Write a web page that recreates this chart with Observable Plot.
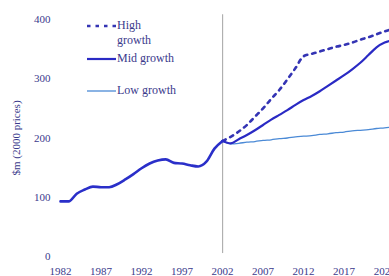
<!DOCTYPE html>
<html>
<head>
<meta charset="utf-8">
<script src="https://cdn.jsdelivr.net/npm/d3@7"></script>
<script src="https://cdn.jsdelivr.net/npm/@observablehq/plot@0.6"></script>
<style>
  html, body { margin: 0; padding: 0; background: #fff; }
  #wrap { position: relative; width: 389px; height: 276px; overflow: hidden; font-family: "Liberation Serif", "DejaVu Serif", serif; }
  #legend { position: absolute; left: 86px; top: 18px; font-size: 12px; color: #3a3a8c; line-height: 15px; }
  .row { display: flex; align-items: flex-start; position: absolute; left: 0; white-space: nowrap; }
  .row svg { margin-top: 1px; margin-right: 1px; }
</style>
</head>
<body>
<div id="wrap"><div id="chart"></div><div id="legend"></div></div>
<script>
const histYears = [1982,1983,1984,1985,1986,1987,1988,1989,1990,1991,1992,1993,1994,1995,1996,1997,1998,1999,2000,2001,2002];
const histValues = [93,93,106,113,118,117,117,122,130,139,149,157,162,164,158,157,154,152,160,182,195];

const projYears = [2002,2003,2004,2005,2006,2007,2008,2009,2010,2011,2012,2013,2014,2015,2016,2017,2018,2019,2020,2021,2022,2023];
const highValues = [195,202,211,222,236,250,266,281,299,318,338,342,346,350,354,357,361,366,370,375,380,384];
const midValues  = [195,191,198,205,213,222,231,239,247,256,264,271,279,288,297,306,316,327,340,353,361,365];
const lowValues  = [195,190,191,193,194,196,197,199,200,202,203,204,206,207,209,210,212,213,214,216,217,219];

const xTicks = [1982,1987,1992,1997,2002,2007,2012,2017,2022];
const yTicks = [0,100,200,300,400];
const dividerYear = [2002];

const seriesNames = ["High growth", "Mid growth", "Low growth"];
const colors = {hist: "#2a2fc9", high: "#3434b4", mid: "#2a2ac4", low: "#4b8ad6", text: "#3a3a8c"};

const hist = histYears.map((y, i) => ({year: y, value: histValues[i]}));
const high = projYears.map((y, i) => ({year: y, value: highValues[i]}));
const mid = projYears.map((y, i) => ({year: y, value: midValues[i]}));
const low = projYears.map((y, i) => ({year: y, value: lowValues[i]}));

const chart = Plot.plot({
  width: 389,
  height: 276,
  marginLeft: 60,
  marginRight: 0,
  marginTop: 19,
  marginBottom: 20,
  style: {fontFamily: '"Liberation Serif", serif', fontSize: "11px", color: colors.text, background: "#fff"},
  x: {domain: [1982, 2022.6], ticks: xTicks, tickFormat: d => String(d), label: null},
  y: {domain: [0, 400], ticks: yTicks},
  marks: [
    Plot.axisX({ticks: xTicks, tickSize: 0, tickPadding: 11, tickFormat: d => String(d), fill: colors.text, label: null}),
    Plot.axisY({ticks: yTicks, tickSize: 0, tickPadding: 10, fill: colors.text, label: "$m (2000 prices)", labelAnchor: "center", labelArrow: "none", labelOffset: 48}),
    Plot.ruleX(dividerYear, {y1: 5, y2: 408, stroke: "#b0b0b0", strokeWidth: 1.2}),
    Plot.line(low, {x: "year", y: "value", stroke: colors.low, strokeWidth: 1.3, curve: "monotone-x", clip: true}),
    Plot.line(high, {x: "year", y: "value", stroke: colors.high, strokeWidth: 2.6, strokeDasharray: "3.5,5", curve: "monotone-x", clip: true}),
    Plot.line(mid, {x: "year", y: "value", stroke: colors.mid, strokeWidth: 2.2, curve: "monotone-x", clip: true}),
    Plot.line(hist, {x: "year", y: "value", stroke: colors.hist, strokeWidth: 2.6, curve: "monotone-x"})
  ]
});
document.getElementById("chart").appendChild(chart);

// legend
const legend = document.getElementById("legend");
const legendStyles = [
  {stroke: colors.high, width: 2.6, dash: "3.5,5", top: 0, label: "High<br>growth"},
  {stroke: colors.mid, width: 2.2, dash: "", top: 33, label: "Mid growth"},
  {stroke: colors.low, width: 1.3, dash: "", top: 65, label: "Low growth"}
];
legendStyles.forEach((s, i) => {
  const row = document.createElement("div");
  row.className = "row";
  row.style.top = s.top + "px";
  row.innerHTML = `<svg width="30" height="12"><line x1="1" x2="30" y1="7" y2="7" stroke="${s.stroke}" stroke-width="${s.width}" ${s.dash ? `stroke-dasharray="${s.dash}"` : ""}/></svg><span>${s.label}</span>`;
  legend.appendChild(row);
});
</script>
</body>
</html>
